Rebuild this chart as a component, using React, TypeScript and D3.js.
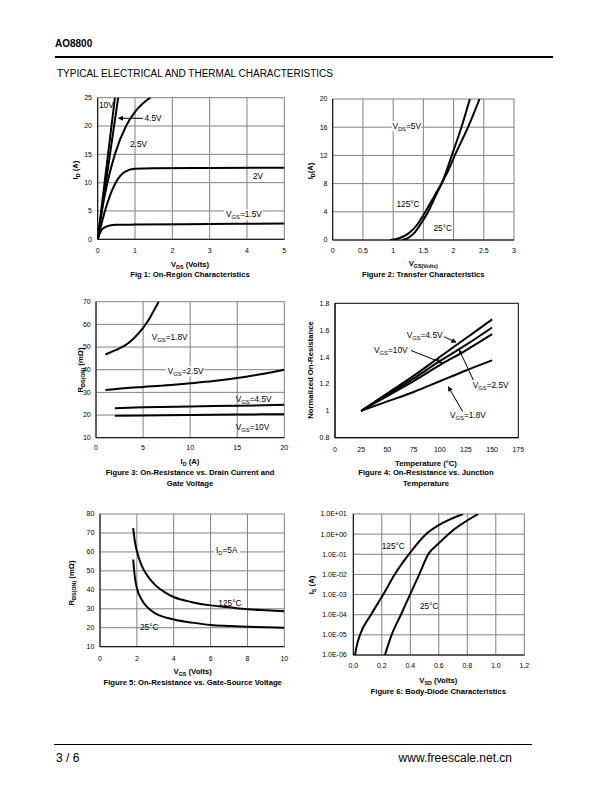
import React from 'react';
import * as d3 from 'd3';

const FONT = "'Liberation Sans', Arial, Helvetica, sans-serif";

type Pt = [number, number];

// ---------- Figure 1: On-Region Characteristics ----------
const fig1XTicks = [0, 1, 2, 3, 4, 5];
const fig1YTicks = [0, 5, 10, 15, 20, 25];
const fig1Vgs10: Pt[] = [[0, 0], [0.48, 26]];
const fig1Vgs45: Pt[] = [[0, 0], [0.57, 26]];
const fig1Vgs25: Pt[] = [[0, 0], [0.11, 5], [0.26, 10], [0.46, 15], [0.76, 20], [1.0, 22.5], [1.4, 25], [1.6, 26]];
const fig1Vgs2: Pt[] = [[0, 0], [0.1, 2.7], [0.25, 6.2], [0.5, 10.2], [0.75, 12], [1, 12.45], [1.5, 12.55], [3, 12.6], [5, 12.65]];
const fig1Vgs15: Pt[] = [[0, 0], [0.05, 0.9], [0.1, 1.6], [0.2, 2.15], [0.3, 2.4], [0.5, 2.55], [1, 2.6], [3, 2.7], [5, 2.8]];

// ---------- Figure 2: Transfer Characteristics ----------
const fig2XTicks = [0, 0.5, 1, 1.5, 2, 2.5, 3];
const fig2YTicks = [0, 4, 8, 12, 16, 20];
const fig2T125: Pt[] = [[0.95, 0], [1.1, 0.25], [1.25, 0.9], [1.4, 2.2], [1.5, 3.5], [1.6, 5], [1.7, 6.5], [1.82, 8.4], [1.97, 12], [2.13, 16], [2.27, 20]];
const fig2T25: Pt[] = [[1.15, 0], [1.25, 0.3], [1.35, 1], [1.45, 2.2], [1.58, 4], [1.7, 6.2], [1.82, 8.3], [1.92, 10], [2.02, 12], [2.24, 16], [2.43, 20]];

// ---------- Figure 3: On-Resistance vs Drain Current ----------
const fig3XTicks = [0, 5, 10, 15, 20];
const fig3YTicks = [10, 20, 30, 40, 50, 60, 70];
const fig3Vgs18: Pt[] = [[1, 46.7], [2, 48.5], [3, 50.5], [4, 53.8], [5, 58.5], [5.6, 62], [6.2, 66.5], [6.65, 70], [6.8, 71.5]];
const fig3Vgs25: Pt[] = [[1, 31], [3, 31.8], [5, 32.4], [7.5, 33.1], [10, 34], [12.5, 35], [15, 36.3], [17.5, 38], [20, 40]];
const fig3Vgs45: Pt[] = [[2, 23], [5, 23.4], [10, 23.8], [15, 24.1], [20, 24.5]];
const fig3Vgs10: Pt[] = [[2, 19.7], [5, 19.8], [10, 20], [15, 20.2], [20, 20.4]];

// ---------- Figure 4: On-Resistance vs Junction Temperature ----------
const fig4XTicks = [0, 25, 50, 75, 100, 125, 150, 175];
const fig4YTicks = [0.8, 1, 1.2, 1.4, 1.6, 1.8];
const fig4Vgs45: Pt[] = [[25, 1], [50, 1.13], [75, 1.26], [100, 1.4], [125, 1.54], [150, 1.68]];
const fig4Vgs10: Pt[] = [[25, 1], [50, 1.12], [75, 1.24], [100, 1.37], [125, 1.49], [150, 1.62]];
const fig4Vgs25: Pt[] = [[25, 1], [50, 1.11], [75, 1.22], [100, 1.34], [125, 1.45], [150, 1.57]];
const fig4Vgs18: Pt[] = [[25, 1], [50, 1.07], [75, 1.14], [100, 1.22], [125, 1.3], [150, 1.375]];

// ---------- Figure 5: On-Resistance vs Gate-Source Voltage ----------
const fig5XTicks = [0, 2, 4, 6, 8, 10];
const fig5YTicks = [10, 20, 30, 40, 50, 60, 70, 80];
const fig5T125: Pt[] = [[1.8, 72.5], [1.9, 65], [2, 60.5], [2.25, 53], [2.5, 48.5], [3, 42.5], [3.5, 38.8], [4, 36.2], [5, 33.5], [6, 31.8], [7, 30.8], [8, 29.8], [9, 29.2], [10, 28.7]];
const fig5T25: Pt[] = [[1.8, 56], [1.9, 46], [2, 41], [2.25, 35], [2.5, 31.5], [3, 27.6], [3.5, 25.6], [4, 24.4], [5, 22.7], [6, 21.4], [7, 20.9], [8, 20.5], [9, 20.2], [10, 20]];

// ---------- Figure 6: Body-Diode Characteristics ----------
const fig6XTicks = [0, 0.2, 0.4, 0.6, 0.8, 1.0, 1.2];
const fig6YTicks = [1e-6, 1e-5, 1e-4, 1e-3, 1e-2, 1e-1, 1, 10];
const fig6T125: Pt[] = [[0.012, 1e-6], [0.025, 3e-6], [0.047, 1e-5], [0.124, 1e-4], [0.21, 1e-3], [0.29, 1e-2], [0.39, 1e-1], [0.51, 1], [0.6, 2.8], [0.77, 10]];
const fig6T25: Pt[] = [[0.222, 1e-6], [0.269, 1e-5], [0.334, 1e-4], [0.398, 1e-3], [0.463, 1e-2], [0.526, 1e-1], [0.6, 0.35], [0.667, 1], [0.877, 10]];

// ---------- text helpers ----------
type Seg = { t: string; sub?: boolean };
function parse(s: string): Seg[] {
  const out: Seg[] = [];
  const re = /_\{([^}]*)\}/g;
  let last = 0;
  let m: RegExpExecArray | null;
  while ((m = re.exec(s))) {
    if (m.index > last) out.push({ t: s.slice(last, m.index) });
    out.push({ t: m[1], sub: true });
    last = m.index + m[0].length;
  }
  if (last < s.length) out.push({ t: s.slice(last) });
  return out;
}
function estW(s: string, size: number) {
  return parse(s).reduce((a, sg) => a + sg.t.length * 0.56 * size * (sg.sub ? 0.7 : 1), 0);
}

function RText(props: { s: string; x: number; y: number; size: number; bold?: boolean; anchor?: string; rotate?: boolean }) {
  const { s, x, y, size, bold, anchor = 'start', rotate } = props;
  const segs = parse(s);
  const shift = size * 0.25;
  let cur = false;
  const spans = segs.map((sg, i) => {
    let dy = 0;
    if (sg.sub && !cur) dy = shift;
    else if (!sg.sub && cur) dy = -shift;
    cur = !!sg.sub;
    return (
      <tspan key={i} dy={dy || undefined} fontSize={sg.sub ? size * 0.7 : size}>
        {sg.t}
      </tspan>
    );
  });
  return (
    <text
      x={x}
      y={y + size * 0.35}
      fontSize={size}
      fontFamily={FONT}
      fontWeight={bold ? 'bold' : 'normal'}
      textAnchor={anchor}
      fill="#000"
      transform={rotate ? `rotate(-90 ${x} ${y})` : undefined}
    >
      {spans}
    </text>
  );
}

type Label = { s: string; x: number; y: number; anchor?: string; bg?: boolean };
type Arrow = { x1: number; y1: number; x2: number; y2: number };
type ChartCfg = {
  id: string;
  box: { x0: number; x1: number; y0: number; y1: number };
  xDomain: [number, number];
  yDomain: [number, number];
  yLog?: boolean;
  xTicks: number[];
  yTicks: number[];
  xFmt: (v: number) => string;
  yFmt: (v: number) => string;
  grid: boolean;
  series: Pt[][];
  labels: Label[];
  arrows?: Arrow[];
  xTitle: { s: string; x: number; y: number };
  yTitle: { s: string; x: number; y: number };
  captions: { s: string; x: number; y: number }[];
  yLabelX: number;
  xLabelY: number;
};

const TICK = 7;
const LAB = 8.3;
const TITLE = 7.7;

function Chart({ c }: { c: ChartCfg }) {
  const { x0, x1, y0, y1 } = c.box;
  const xs = d3.scaleLinear().domain(c.xDomain).range([x0, x1]);
  const ys = c.yLog
    ? d3.scaleLog().domain(c.yDomain).range([y1, y0])
    : d3.scaleLinear().domain(c.yDomain).range([y1, y0]);
  const line = d3
    .line<Pt>()
    .x((d) => xs(d[0]))
    .y((d) => ys(d[1]))
    .curve(d3.curveMonotoneX);
  const inner = (v: number, dom: [number, number]) => v > Math.min(...dom) + 1e-12 && v < Math.max(...dom) - 1e-12;
  return (
    <g>
      <defs>
        <clipPath id={`clip-${c.id}`}>
          <rect x={x0} y={y0} width={x1 - x0} height={y1 - y0} />
        </clipPath>
      </defs>
      <rect x={x0} y={y0} width={x1 - x0} height={y1 - y0} fill="#fff" stroke={c.grid ? '#808080' : '#000'} strokeWidth={1} />
      {c.grid &&
        c.xTicks.filter((v) => inner(v, c.xDomain)).map((v) => (
          <line key={'gx' + v} x1={xs(v)} x2={xs(v)} y1={y0} y2={y1} stroke="#808080" strokeWidth={1} />
        ))}
      {c.grid &&
        c.yTicks.filter((v) => inner(v, c.yDomain)).map((v) => (
          <line key={'gy' + v} x1={x0} x2={x1} y1={ys(v)} y2={ys(v)} stroke="#808080" strokeWidth={1} />
        ))}
      <line x1={x0} x2={x0} y1={y0} y2={y1} stroke="#000" strokeWidth={1} />
      <line x1={x0} x2={x1} y1={y1} y2={y1} stroke="#000" strokeWidth={1} />
      <g clipPath={`url(#clip-${c.id})`}>
        {c.series.map((s, i) => (
          <path key={i} d={line(s) || ''} fill="none" stroke="#000" strokeWidth={2} strokeLinejoin="round" />
        ))}
      </g>
      {c.labels.map((l, i) => {
        const w = estW(l.s, LAB);
        const lx = l.anchor === 'middle' ? l.x - w / 2 : l.x;
        return (
          <g key={'l' + i}>
            {l.bg && <rect x={lx - 2} y={l.y - LAB * 0.6} width={w + 4} height={LAB * 1.25} fill="#fff" />}
            <RText s={l.s} x={l.x} y={l.y} size={LAB} anchor={l.anchor} />
          </g>
        );
      })}
      {(c.arrows || []).map((a, i) => (
        <line key={'a' + i} x1={a.x1} y1={a.y1} x2={a.x2} y2={a.y2} stroke="#000" strokeWidth={1} markerEnd="url(#arrowhead)" />
      ))}
      {c.xTicks.map((v) => (
        <text key={'xt' + v} x={xs(v)} y={c.xLabelY} fontSize={TICK} fontFamily={FONT} textAnchor="middle">
          {c.xFmt(v)}
        </text>
      ))}
      {c.yTicks.map((v) => (
        <text key={'yt' + v} x={c.yLabelX} y={ys(v) + TICK * 0.35} fontSize={TICK} fontFamily={FONT} textAnchor="end">
          {c.yFmt(v)}
        </text>
      ))}
      <RText s={c.xTitle.s} x={c.xTitle.x} y={c.xTitle.y} size={TITLE} bold anchor="middle" />
      <RText s={c.yTitle.s} x={c.yTitle.x} y={c.yTitle.y} size={TITLE} bold anchor="middle" rotate />
      {c.captions.map((cp, i) => (
        <RText key={'c' + i} s={cp.s} x={cp.x} y={cp.y} size={TITLE} bold anchor="middle" />
      ))}
    </g>
  );
}

const str = (v: number) => String(v);
const sci = (v: number) => {
  const e = Math.round(Math.log10(v));
  return '1.0E' + (e < 0 ? '-' : '+') + String(Math.abs(e)).padStart(2, '0');
};

const charts: ChartCfg[] = [
  {
    id: 'f1',
    box: { x0: 97.7, x1: 284.3, y0: 97.7, y1: 239.3 },
    xDomain: [0, 5],
    yDomain: [0, 25],
    xTicks: fig1XTicks,
    yTicks: fig1YTicks,
    xFmt: str,
    yFmt: str,
    grid: true,
    series: [fig1Vgs10, fig1Vgs45, fig1Vgs25, fig1Vgs2, fig1Vgs15],
    labels: [
      { s: '10V', x: 99, y: 105.5 },
      { s: '4.5V', x: 144.5, y: 118.3 },
      { s: '2.5V', x: 130, y: 144.3 },
      { s: '2V', x: 253, y: 175.7 },
      { s: 'V_{GS}=1.5V', x: 226, y: 214.5, bg: true },
    ],
    arrows: [{ x1: 143, y1: 118.3, x2: 118.5, y2: 118.3 }],
    xTitle: { s: 'V_{DS} (Volts)', x: 190, y: 264.5 },
    yTitle: { s: 'I_{D} (A)', x: 75, y: 170 },
    captions: [{ s: 'Fig 1: On-Region Characteristics', x: 190, y: 274.5 }],
    yLabelX: 92,
    xLabelY: 253,
  },
  {
    id: 'f2',
    box: { x0: 332.7, x1: 514, y0: 99, y1: 240 },
    xDomain: [0, 3],
    yDomain: [0, 20],
    xTicks: fig2XTicks,
    yTicks: fig2YTicks,
    xFmt: str,
    yFmt: str,
    grid: true,
    series: [fig2T125, fig2T25],
    labels: [
      { s: 'V_{DS}=5V', x: 406.7, y: 126, anchor: 'middle', bg: true },
      { s: '125°C', x: 408, y: 204, anchor: 'middle' },
      { s: '25°C', x: 442.7, y: 228.3, anchor: 'middle' },
    ],
    xTitle: { s: 'V_{GS(Volts)}', x: 423.3, y: 263.5 },
    yTitle: { s: 'I_{D}(A)', x: 310, y: 171 },
    captions: [{ s: 'Figure 2: Transfer Characteristics', x: 423.3, y: 274.5 }],
    yLabelX: 327.5,
    xLabelY: 253,
  },
  {
    id: 'f3',
    box: { x0: 96, x1: 284.3, y0: 301.7, y1: 437.7 },
    xDomain: [0, 20],
    yDomain: [10, 70],
    xTicks: fig3XTicks,
    yTicks: fig3YTicks,
    xFmt: str,
    yFmt: str,
    grid: true,
    series: [fig3Vgs18, fig3Vgs25, fig3Vgs45, fig3Vgs10],
    labels: [
      { s: 'V_{GS}=1.8V', x: 151.7, y: 336.7 },
      { s: 'V_{GS}=2.5V', x: 167.7, y: 371, bg: true },
      { s: 'V_{GS}=4.5V', x: 235.7, y: 398.7 },
      { s: 'V_{GS}=10V', x: 235.7, y: 426.7 },
    ],
    xTitle: { s: 'I_{D} (A)', x: 190, y: 461.5 },
    yTitle: { s: 'R_{DS(ON)} (mΩ)', x: 80.5, y: 370 },
    captions: [
      { s: 'Figure 3: On-Resistance vs. Drain Current and', x: 190, y: 472.5 },
      { s: 'Gate Voltage', x: 190, y: 483.5 },
    ],
    yLabelX: 90.7,
    xLabelY: 450.2,
  },
  {
    id: 'f4',
    box: { x0: 335, x1: 518.3, y0: 303.3, y1: 437.7 },
    xDomain: [0, 175],
    yDomain: [0.8, 1.8],
    xTicks: fig4XTicks,
    yTicks: fig4YTicks,
    xFmt: str,
    yFmt: str,
    grid: false,
    series: [fig4Vgs45, fig4Vgs10, fig4Vgs25, fig4Vgs18],
    labels: [
      { s: 'V_{GS}=4.5V', x: 406.7, y: 335 },
      { s: 'V_{GS}=10V', x: 374, y: 350 },
      { s: 'V_{GS}=2.5V', x: 472.7, y: 385 },
      { s: 'V_{GS}=1.8V', x: 450, y: 415 },
    ],
    arrows: [
      { x1: 444, y1: 336.7, x2: 456, y2: 342.3 },
      { x1: 411, y1: 350.5, x2: 441.7, y2: 362.7 },
      { x1: 473.3, y1: 380, x2: 459.3, y2: 350 },
      { x1: 462.7, y1: 411.7, x2: 448.3, y2: 386.7 },
    ],
    xTitle: { s: 'Temperature (°C)', x: 426, y: 463 },
    yTitle: { s: 'Normalized On-Resistance', x: 310, y: 370 },
    captions: [
      { s: 'Figure 4: On-Resistance vs. Junction', x: 426, y: 472.5 },
      { s: 'Temperature', x: 426, y: 483.5 },
    ],
    yLabelX: 329.3,
    xLabelY: 451.5,
  },
  {
    id: 'f5',
    box: { x0: 100, x1: 284.3, y0: 514, y1: 646.7 },
    xDomain: [0, 10],
    yDomain: [10, 80],
    xTicks: fig5XTicks,
    yTicks: fig5YTicks,
    xFmt: str,
    yFmt: str,
    grid: true,
    series: [fig5T125, fig5T25],
    labels: [
      { s: 'I_{D}=5A', x: 216, y: 550, bg: true },
      { s: '125°C', x: 218.3, y: 602.7 },
      { s: '25°C', x: 140, y: 626.7 },
    ],
    xTitle: { s: 'V_{GS} (Volts)', x: 192.7, y: 671.5 },
    yTitle: { s: 'R_{DS(ON)} (mΩ)', x: 71.7, y: 583 },
    captions: [{ s: 'Figure 5: On-Resistance vs. Gate-Source Voltage', x: 192.7, y: 682.5 }],
    yLabelX: 94.3,
    xLabelY: 660.8,
  },
  {
    id: 'f6',
    box: { x0: 353.3, x1: 524.3, y0: 514, y1: 655 },
    xDomain: [0, 1.2],
    yDomain: [1e-6, 10],
    yLog: true,
    xTicks: fig6XTicks,
    yTicks: fig6YTicks,
    xFmt: d3.format('.1f'),
    yFmt: sci,
    grid: true,
    series: [fig6T125, fig6T25],
    labels: [
      { s: '125°C', x: 381.7, y: 546 },
      { s: '25°C', x: 420, y: 606 },
    ],
    xTitle: { s: 'V_{SD} (Volts)', x: 438.3, y: 680.5 },
    yTitle: { s: 'I_{S} (A)', x: 311.7, y: 585 },
    captions: [{ s: 'Figure 6: Body-Diode Characteristics', x: 438.3, y: 691 }],
    yLabelX: 346.7,
    xLabelY: 668.2,
  },
];

export default function App() {
  return (
    <svg width={612} height={792} style={{ position: 'absolute', left: 0, top: 0, background: '#fff' }}>
      <defs>
        <marker id="arrowhead" viewBox="0 0 10 10" refX="9" refY="5" markerWidth="6" markerHeight="5" orient="auto">
          <path d="M0,0 L10,5 L0,10 z" fill="#000" />
        </marker>
      </defs>
      <rect x={0} y={0} width={612} height={792} fill="#fff" />
      <text x={55} y={47} fontSize={10} fontWeight="bold" fontFamily={FONT}>AO8800</text>
      <line x1={55} x2={553} y1={57} y2={57} stroke="#000" strokeWidth={2} />
      <text x={57} y={76.5} fontSize={10} fontFamily={FONT}>TYPICAL ELECTRICAL AND THERMAL CHARACTERISTICS</text>
      {charts.map((c) => (
        <Chart key={c.id} c={c} />
      ))}
      <line x1={54} x2={532} y1={744.5} y2={744.5} stroke="#000" strokeWidth={1} />
      <text x={56} y={761.5} fontSize={12} fontFamily={FONT}>3 / 6</text>
      <text x={512} y={761.5} fontSize={12} fontFamily={FONT} textAnchor="end">www.freescale.net.cn</text>
    </svg>
  );
}
